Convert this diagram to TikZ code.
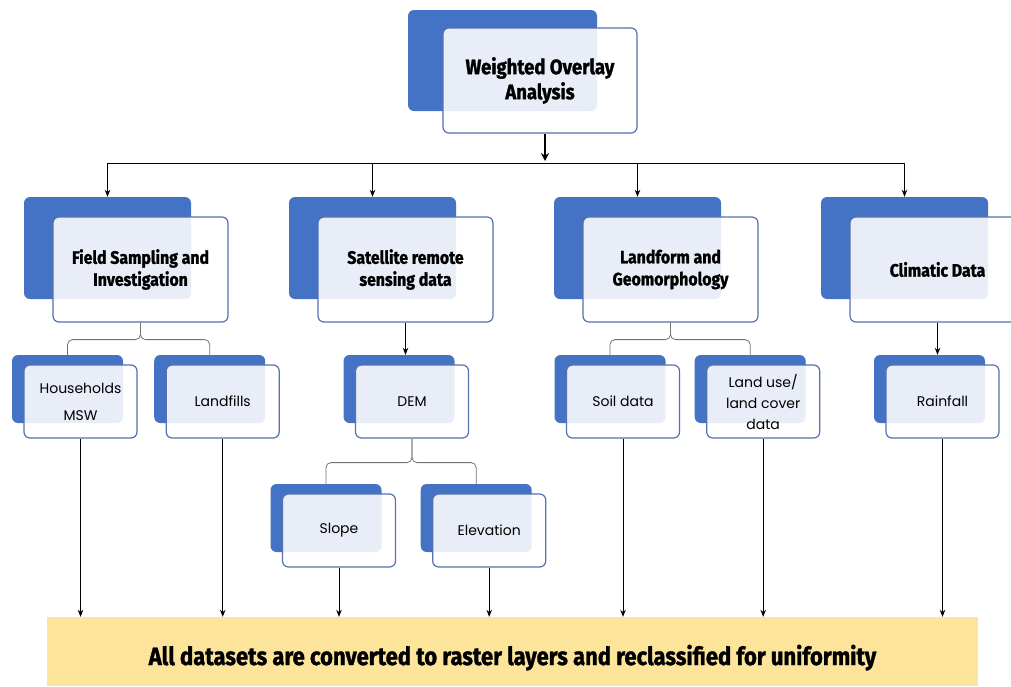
\documentclass[tikz,border=0pt]{standalone}
\usepackage{fontspec}
\setmainfont{Poppins}
\newfontfamily\headfont{Fira Sans}[FakeStretch=0.88,BoldFeatures={FakeBold=1.3}]
\usetikzlibrary{positioning,arrows.meta,calc,backgrounds}
\definecolor{backblue}{RGB}{68,114,196}
\definecolor{frameblue}{RGB}{84,114,174}
\definecolor{barfill}{RGB}{252,228,155}
\tikzset{
  frontbox/.style={draw=frameblue,line width=1.2pt,fill=white,fill opacity=.88,text opacity=1,
    rounded corners=6pt,inner sep=0pt,align=center},
  backbox/.style={fill=backblue,rounded corners=6pt,inner sep=0pt},
  frontbig/.style={frontbox,minimum width=175pt,minimum height=105pt,
    font=\headfont\bfseries\fontsize{18}{22}\selectfont},
  backbig/.style={backbox,minimum width=167pt,minimum height=102pt},
  frontsmall/.style={frontbox,minimum width=113pt,minimum height=73pt,
    font=\fontsize{14}{21}\selectfont},
  backsmall/.style={backbox,minimum width=111pt,minimum height=68pt},
  feed/.style={-{Stealth[length=7pt,width=5.5pt]},line width=0.9pt},
  fork/.style={draw=black!55,line width=0.8pt,rounded corners=5pt},
}

\begin{document}
\begin{tikzpicture}[x=1pt,y=-1pt]
  \useasboundingbox (0,0) rectangle (1011,686);
  \node[frontbig,minimum width=194pt,font=\headfont\bfseries\fontsize{21}{25}\selectfont] (wo) at (540,80.5) {Weighted Overlay\\Analysis};
  \node[frontbig] (field) at (140.5,269.5) {Field Sampling and\\Investigation};
  \node[frontbig] (sat) at (405.5,269.5) {Satellite remote\\sensing data};
  \node[frontbig] (land) at (670.5,269.5) {Landform and\\Geomorphology};
  \node[frontbig] (clim) at (937.5,269.5) {Climatic Data};
  \node[frontsmall,font=\fontsize{14}{27}\selectfont] (hh) at (80.5,401.5) {Households\\MSW};
  \node[frontsmall] (lf) [right=28pt of hh] {Landfills};
  \node[frontsmall] (dem) at (412,401.5) {DEM};
  \node[frontsmall] (slope) at (339,530.5) {Slope};
  \node[frontsmall] (elev) [right=36pt of slope] {Elevation};
  \node[frontsmall] (soil) at (623,401.5) {Soil data};
  \node[frontsmall] (lu) [right=26pt of soil] {Land use/\\land cover\\data};
  \node[frontsmall] (rain) at (942.5,401.5) {Rainfall};
  \node[fill=barfill,minimum width=931pt,minimum height=69pt,inner sep=0pt,
    font=\headfont\bfseries\fontsize{25}{29}\selectfont] (bar) at (512.5,651.5)
    {\raisebox{-13.5pt}[0pt][0pt]{All datasets are converted to raster layers and reclassified for uniformity}};

  \begin{scope}[on background layer]
    \node[backbig,minimum width=189pt,minimum height=101pt] (woB) at ($(wo)+(-37.5,-20)$) {};
    \foreach \n in {field,sat,land,clim}
      \node[backbig] (\n B) at ($(\n)+(-33,-21.5)$) {};
    \foreach \n in {hh,lf,dem,slope,elev,soil,lu,rain}
      \node[backsmall] (\n B) at ($(\n)+(-13,-12.5)$) {};
  \end{scope}

  \coordinate (hub) at (545,163);
  \draw[line width=2.4pt,-{Stealth[length=8pt,width=8pt]},shorten >=2pt] (wo.south -| hub) -- (hub);
  \draw[line width=1pt] (fieldB.north |- hub) -- (climB.north |- hub);
  \foreach \n in {field,sat,land,clim}
    \draw[feed] (\n B.north |- hub) -- (\n B.north);

  \draw[fork] (hhB.north) |- ($(field.south)+(0,17)$) -- (field.south);
  \draw[fork] (lfB.north) |- ($(field.south)+(0,17)$) -- (field.south);
  \draw[fork] (soilB.north) |- ($(land.south)+(0,17)$) -- (land.south);
  \draw[fork] (luB.north) |- ($(land.south)+(0,17)$) -- (land.south);
  \draw[fork] (slopeB.north) |- ($(dem.south)+(0,24)$) -- (dem.south);
  \draw[fork] (elevB.north) |- ($(dem.south)+(0,24)$) -- (dem.south);
  \draw[feed] (sat.south) -- (sat.south |- demB.north);
  \draw[feed] (clim.south) -- (clim.south |- rainB.north);

  \foreach \n in {hh,lf,slope,elev,soil,lu,rain}
    \draw[feed] (\n.south) -- (\n.south |- bar.north);
\end{tikzpicture}
\end{document}
